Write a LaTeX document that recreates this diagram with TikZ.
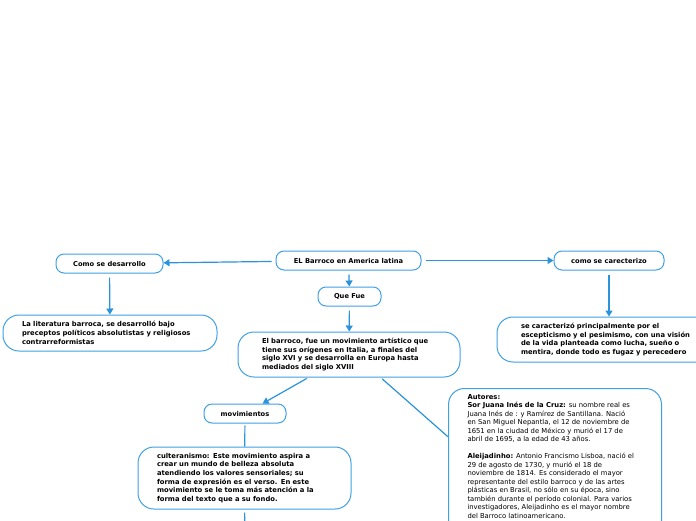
\documentclass[tikz,border=0pt]{standalone}
\usepackage{fontspec}
\setmainfont{DejaVu Sans}
\usetikzlibrary{arrows.meta, positioning}
\definecolor{cline}{HTML}{2A93DC}
\definecolor{cborder}{HTML}{3FA0E6}
\tikzset{
  every picture/.style={line width=1pt},
  topic/.style={draw=cborder, rounded corners=8pt, minimum height=19pt, inner sep=2pt,
                font=\fontsize{6.7}{8.6}\selectfont\bfseries},
  para/.style={draw=cborder, rounded corners=16pt, align=left, inner ysep=4pt,
               font=\fontsize{6.8}{8.7}\selectfont\bfseries},
  info/.style={draw=cborder, rounded corners=16pt, align=left, inner ysep=6pt, inner xsep=19pt,
               anchor=north west, font=\fontsize{6.8}{8.5}\selectfont},
  arrow/.style={-{Triangle[length=6pt, width=7pt]}, draw=cline, line width=1.2pt},
  link/.style={draw=cline, line width=1.2pt},
}

\begin{document}
\begin{tikzpicture}[x=1pt, y=-1pt]
  \path[use as bounding box, clip] (0,0) rectangle (696,520);
  % first row
  \node[topic, minimum width=145pt] (root) at (348.5,260.5) {EL Barroco en America latina};
  \node[topic, minimum width=107pt] (desarrollo) at (109.5,263.5) {Como se desarrollo};
  \node[topic, minimum width=110pt] (caracter) at (609,260.5) {como se carecterizo};
  \node[topic, minimum width=63pt] (quefue) at (349.5,296.5) {Que Fue};
  % second row
  \node[para, minimum width=214pt, minimum height=36pt, inner xsep=19pt, text width=176pt] (literatura) at (110,333)
    {La literatura barroca, se desarrolló bajo\\preceptos políticos absolutistas y religiosos\\contrarreformistas};
  \node[para, minimum width=222pt, minimum height=45pt, inner xsep=24pt, text width=174pt] (caracterizo) at (608,339.5)
    {se caracterizó principalmente por el\\escepticismo y el pesimismo, con una visión\\de la vida planteada como lucha, sueño o\\mentira, donde todo es fugaz y perecedero};
  \node[para, minimum width=222pt, minimum height=45pt, inner xsep=24pt, text width=174pt] (barroco) at (349,354.5)
    {El barroco, fue un movimiento artístico que\\tiene sus orígenes en Italia, a finales del\\siglo XVI y se desarrolla en Europa hasta\\mediados del siglo XVIII};
  \node[topic, minimum width=82pt] (movimientos) at (245,413.5) {movimientos};
  \node[para, minimum width=213pt, minimum height=62pt, inner xsep=19pt, text width=175pt] (culteranismo) at (244.5,478)
    {culteranismo: Este movimiento aspira a\\crear un mundo de belleza absoluta\\atendiendo los valores sensoriales; su\\forma de expresión es el verso. En este\\movimiento se le toma más atención a la\\forma del texto que a su fondo.};
  \node[info] (autores) at (448,388)
    {\parbox[t][150pt][t]{175pt}{\raggedright\textbf{Autores:}\\
     \textbf{Sor Juana Inés de la Cruz:} su nombre real es\\Juana Inés de : y Ramírez de Santillana. Nació\\en San Miguel Nepantla, el 12 de noviembre de\\1651 en la ciudad de México y murió el 17 de\\abril de 1695, a la edad de 43 años.\\[8.5pt]
     \textbf{Aleijadinho:} Antonio Francismo Lisboa, nació el\\29 de agosto de 1730, y murió el 18 de\\noviembre de 1814. Es considerado el mayor\\representante del estilo barroco  y de las artes\\plásticas en Brasil, no sólo en su época, sino\\también durante el período colonial. Para varios\\investigadores, Aleijadinho es el mayor nombre\\del Barroco latinoamericano.}};
  \coordinate (abajo) at (245,530);
  % connectors
  \draw[arrow, shorten <=4pt] (root) -- (desarrollo);
  \draw[arrow, shorten <=4pt] (root) -- (caracter);
  \draw[arrow, shorten <=4pt] (root) -- (quefue);
  \draw[arrow, shorten <=4pt] (quefue) -- (barroco);
  \draw[arrow, shorten <=4pt] (desarrollo) -- (literatura);
  \draw[arrow, shorten <=4pt] (caracter.south) -- (caracter.south |- caracterizo.north);
  \draw[arrow, shorten <=2pt] (barroco) -- (movimientos);
  \draw[link, shorten <=2pt] (barroco.-36) -- (autores.163);
  \draw[link, shorten <=2pt] (movimientos) -- (culteranismo);
  \draw[link, shorten <=3pt] (culteranismo.south) -- (abajo);
\end{tikzpicture}
\end{document}
